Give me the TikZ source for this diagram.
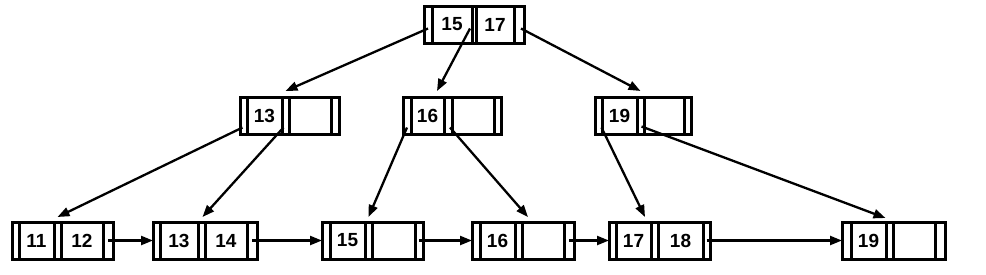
\documentclass[tikz,border=0pt]{standalone}
\usepackage{fontspec}
\setmainfont{Liberation Sans}
\usetikzlibrary{arrows.meta,positioning,calc}
\tikzset{
  cell/.style={draw, line width=3pt, rectangle, inner sep=0pt, outer sep=0pt,
    minimum height=37pt, font=\bfseries\fontsize{19}{19}\selectfont},
  ptr/.style={line width=2.3pt, -{Triangle[length=12pt,width=9pt]}},
}
\newcommand\bnode[9]{%
  \node[cell, minimum width=#3pt, anchor=north west] (#1-p1) at (#2) {};
  \node[cell, minimum width=#4pt, right=0pt of #1-p1] (#1-k1) {#8};
  \node[cell, minimum width=#5pt, right=0pt of #1-k1] (#1-p2) {};
  \node[cell, minimum width=#6pt, right=0pt of #1-p2] (#1-k2) {#9};
  \node[cell, minimum width=#7pt, right=0pt of #1-k2] (#1-p3) {};
}
\begin{document}
\begin{tikzpicture}[x=1pt,y=-1pt]
\useasboundingbox (0,0) rectangle (986,274);
% top
\bnode{t}{424,6}{8}{40}{4}{38}{10}{15}{17}
% middle
\bnode{ma}{240,97}{7}{35}{7}{42}{8}{13}{}
\bnode{mb}{403,97}{8}{33}{8}{42}{7}{16}{}
\bnode{mc}{595,97}{7}{35}{7}{40}{7}{19}{}
% leaves
\bnode{la}{12,222}{7}{35}{7}{42}{10}{11}{12}
\bnode{lb}{153,222}{7}{38}{7}{42}{10}{13}{14}
\bnode{lc}{322,222}{8}{35}{7}{43}{8}{15}{}
\bnode{ld}{472,222}{8}{35}{7}{42}{10}{16}{}
\bnode{le}{609,222}{7}{35}{7}{45}{7}{17}{18}
\bnode{lf}{842,222}{9}{35}{7}{42}{10}{19}{}
% top pointers
\draw[ptr] ($(t-p1.center)+(0,4)$) -- ($(ma-p2.north)+(0,-6)$);
\draw[ptr] ($(t-p2.center)+(-4,4)$) -- ($(mb-k1.north east)+(-7,-6)$);
\draw[ptr] ($(t-p3.center)+(2,4)$) -- ($(mc-p2.north)+(0,-6)$);
% middle pointers
\draw[ptr] ($(ma-p1.center)+(-1,12)$) -- ($(la-p2.north)+(0,-5)$);
\draw[ptr] ($(ma-p2.center)+(-2,12)$) -- ($(lb-p2.north)+(1,-5)$);
\draw[ptr] ($(mb-p1.center)+(0,12)$) -- ($(lc-p2.north)+(0,-5)$);
\draw[ptr] ($(mb-p2.center)+(2,12)$) -- ($(ld-k2.north west)+(6,-5)$);
\draw[ptr] ($(mc-p1.center)+(3,12)$) -- ($(le-k1.north east)+(-6,-5)$);
\draw[ptr] ($(mc-p2.center)+(1,11)$) -- ($(lf-p2.north)+(-4,-4)$);
% leaf chain
\draw[ptr] (la-p3.center) -- (lb-p1.west);
\draw[ptr] (lb-p3.center) -- (lc-p1.west);
\draw[ptr] (lc-p3.center) -- (ld-p1.west);
\draw[ptr] (ld-p3.center) -- (le-p1.west);
\draw[ptr] (le-p3.center) -- (lf-p1.west);
\end{tikzpicture}
\end{document}
